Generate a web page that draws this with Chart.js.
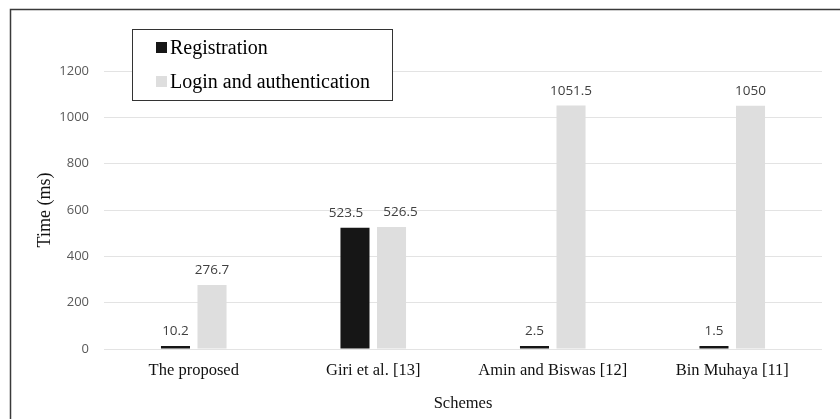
<!DOCTYPE html>
<html>
<head>
<meta charset="utf-8">
<script src="https://cdn.jsdelivr.net/npm/chart.js@4/dist/chart.umd.min.js"></script>
<style>
  html, body { margin: 0; padding: 0; background: #ffffff; }
  #wrap { width: 840px; height: 419px; position: relative; }
</style>
</head>
<body>
<div id="wrap"><canvas id="c" width="840" height="419"></canvas></div>
<script>
// Computation time per scheme (ms)
const schemes = ['The proposed', 'Giri et al. [13]', 'Amin and Biswas [12]', 'Bin Muhaya [11]'];
const registration = [10.2, 523.5, 2.5, 1.5];
const loginAuth = [276.7, 526.5, 1051.5, 1050];
const yTicks = [0, 200, 400, 600, 800, 1000, 1200];

const SERIF = '"Liberation Serif", "Times New Roman", serif';
const SANS = '"Open Sans", "Noto Sans", sans-serif';

// Outer frame around the whole figure
const framePlugin = {
  id: 'frame',
  afterDraw(chart) {
    const ctx = chart.ctx;
    ctx.save();
    ctx.strokeStyle = '#3a3a3a';
    ctx.lineWidth = 1.5;
    ctx.strokeRect(10.5, 9.5, 900, 500);
    ctx.restore();
  }
};

// Value labels above each bar; neighbouring labels that would collide are pushed apart
const valueLabels = {
  id: 'valueLabels',
  afterDatasetsDraw(chart) {
    const ctx = chart.ctx;
    ctx.save();
    ctx.font = '13.5px ' + SANS;
    ctx.fillStyle = '#404040';
    ctx.textAlign = 'center';
    ctx.textBaseline = 'middle';
    const n = chart.data.labels.length;
    for (let i = 0; i < n; i++) {
      const items = chart.data.datasets.map((ds, d) => {
        const el = chart.getDatasetMeta(d).data[i];
        const txt = String(ds.data[i]);
        return { x: el.x, y: el.y - 14.5, txt, w: ctx.measureText(txt).width };
      });
      if (items.length === 2) {
        const a = items[0], b = items[1];
        const need = (a.w + b.w) / 2 + 20;
        if (Math.abs(a.y - b.y) < 16 && (b.x - a.x) < need) {
          const s = (need - (b.x - a.x)) / 2;
          a.x -= s; b.x += s;
        }
      }
      items.forEach(it => ctx.fillText(it.txt, it.x, it.y));
    }
    ctx.restore();
  }
};

// Boxed legend in the upper left of the plot
const boxLegend = {
  id: 'boxLegend',
  afterDraw(chart) {
    const ctx = chart.ctx;
    ctx.save();
    ctx.fillStyle = '#ffffff';
    ctx.fillRect(132.5, 29.5, 260, 71);
    ctx.strokeStyle = '#333333';
    ctx.lineWidth = 1;
    ctx.strokeRect(132.5, 29.5, 260, 71);
    ctx.font = '20px ' + SERIF;
    ctx.textBaseline = 'middle';
    const rows = [48, 82];
    chart.data.datasets.forEach((ds, d) => {
      const cy = rows[d];
      ctx.fillStyle = ds.backgroundColor;
      ctx.fillRect(156, cy - 6, 11, 11);
      ctx.fillStyle = '#000000';
      ctx.fillText(ds.label, 170, cy + 1);
    });
    ctx.restore();
  }
};

new Chart(document.getElementById('c'), {
  type: 'bar',
  data: {
    labels: schemes,
    datasets: [
      { label: 'Registration', data: registration, backgroundColor: '#161616' },
      { label: 'Login and authentication', data: loginAuth, backgroundColor: '#dedede' }
    ]
  },
  options: {
    responsive: false,
    animation: false,
    devicePixelRatio: 1,
    layout: { padding: { left: 0, top: 71, right: 18, bottom: 0 } },
    datasets: {
      bar: { categoryPercentage: 0.407, barPercentage: 0.795, minBarLength: 3 }
    },
    plugins: {
      legend: { display: false },
      tooltip: { enabled: false }
    },
    scales: {
      x: {
        grid: { display: false, drawTicks: false },
        border: { display: false },
        ticks: { font: { family: SERIF, size: 16.5 }, color: '#111111', padding: 12, maxRotation: 0 },
        title: { display: true, text: 'Schemes', font: { family: SERIF, size: 16.5 }, color: '#111111', padding: { top: 0, bottom: 5 } },
        afterFit(scale) { scale.height = 70; }
      },
      y: {
        min: 0,
        max: 1200,
        afterBuildTicks(scale) { scale.ticks = yTicks.map(v => ({ value: v })); },
        grid: { color: '#e3e3e3', lineWidth: 1, drawTicks: false },
        border: { display: false },
        ticks: {
          font: { family: SANS, size: 13 }, color: '#595959', padding: 15,
          callback: (v) => String(v)
        },
        title: { display: true, text: 'Time (ms)', font: { family: SERIF, size: 18 }, color: '#111111', padding: { top: 34, bottom: 0 } },
        afterFit(scale) { scale.width = 104; }
      }
    }
  },
  plugins: [valueLabels, boxLegend, framePlugin]
});
</script>
</body>
</html>
